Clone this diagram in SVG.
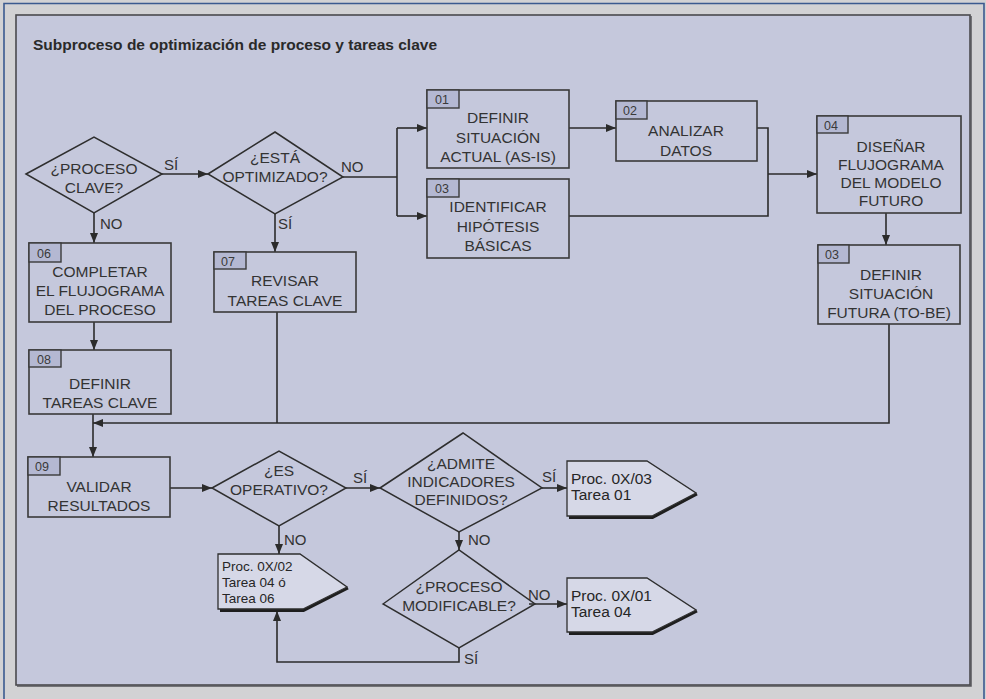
<svg xmlns="http://www.w3.org/2000/svg" width="986" height="699" viewBox="0 0 986 699">
  <defs>
    <marker id="arrow" viewBox="0 0 10 8" refX="10" refY="4" markerWidth="10" markerHeight="8" markerUnits="userSpaceOnUse" orient="auto">
      <path d="M0,0 L10,4 L0,8 Z" fill="#2b2b2b"/>
    </marker>
  </defs>
  <style>
    .box { fill: none; stroke: #3a3a3a; stroke-width: 1.6; }
    .tag { fill: #b4b8d2; stroke: #3a3a3a; stroke-width: 1.4; }
    .tagtxt { font-family: "Liberation Sans", Arial, sans-serif; font-size: 12.5px; fill: #3a3a3a; }
    .dia { fill: none; stroke: #2e2e2e; stroke-width: 1.5; }
    .pent { fill: #d6d8e7; stroke: #2e2e2e; stroke-width: 1.3; }
    .pshadow { fill: none; stroke: #1e1e1e; stroke-width: 3; stroke-linejoin: miter; }
    .t { font-family: "Liberation Sans", Arial, sans-serif; font-size: 15.5px; fill: #333; text-anchor: middle; }
    .pt { font-family: "Liberation Sans", Arial, sans-serif; font-size: 15.5px; fill: #262626; }
    .pt3 { font-family: "Liberation Sans", Arial, sans-serif; font-size: 13.5px; fill: #262626; }
    .lbl { font-family: "Liberation Sans", Arial, sans-serif; font-size: 15px; fill: #333; }
    .conn { fill: none; stroke: #2b2b2b; stroke-width: 1.6; }
    .title { font-family: "Liberation Sans", Arial, sans-serif; font-size: 15.5px; font-weight: bold; fill: #2a2a2a; }
  </style>

  <!-- frame -->
  <rect x="0" y="0" width="986" height="699" fill="#d2d2d4"/>
  <path d="M4,699 V3.5 H984 V699" fill="none" stroke="#3b5a8f" stroke-width="1.6"/>
  <rect x="16" y="15" width="954" height="670" fill="#c5c8dc" stroke="#4a4a4e" stroke-width="1.6"/>
  <path d="M17,686 H971 V16" fill="none" stroke="#55555a" stroke-width="1.5"/>

  <text class="title" x="33" y="50">Subproceso de optimización de proceso y tareas clave</text>

  <!-- connectors -->
  <g id="connectors">
    <path class="conn" d="M162,174 H208" marker-end="url(#arrow)"/>
    <path class="conn" d="M94,213 V243" marker-end="url(#arrow)"/>
    <path class="conn" d="M343,177 H397"/>
    <path class="conn" d="M397,128 V216"/>
    <path class="conn" d="M397,128 H427" marker-end="url(#arrow)"/>
    <path class="conn" d="M397,216 H427" marker-end="url(#arrow)"/>
    <path class="conn" d="M275,214 V252" marker-end="url(#arrow)"/>
    <path class="conn" d="M569,128 H616" marker-end="url(#arrow)"/>
    <path class="conn" d="M757,128 H768 V216 H569"/>
    <path class="conn" d="M768,174 H817" marker-end="url(#arrow)"/>
    <path class="conn" d="M886,213 V245" marker-end="url(#arrow)"/>
    <path class="conn" d="M889,324 V423 H93" marker-end="url(#arrow)"/>
    <path class="conn" d="M277,312 V423"/>
    <path class="conn" d="M94,322 V350" marker-end="url(#arrow)"/>
    <path class="conn" d="M93,414 V457" marker-end="url(#arrow)"/>
    <path class="conn" d="M170,488 H212" marker-end="url(#arrow)"/>
    <path class="conn" d="M346,488 H380" marker-end="url(#arrow)"/>
    <path class="conn" d="M279,526 V554" marker-end="url(#arrow)"/>
    <path class="conn" d="M542,488 H567" marker-end="url(#arrow)"/>
    <path class="conn" d="M459,532 V550" marker-end="url(#arrow)"/>
    <path class="conn" d="M529,604 H567" marker-end="url(#arrow)"/>
    <path class="conn" d="M459,648 V662 H277 V611" marker-end="url(#arrow)"/>

    <text class="lbl" x="164" y="170">SÍ</text>
    <text class="lbl" x="100" y="229">NO</text>
    <text class="lbl" x="341" y="172">NO</text>
    <text class="lbl" x="278" y="229">SÍ</text>
    <text class="lbl" x="353" y="483">SÍ</text>
    <text class="lbl" x="284" y="545">NO</text>
    <text class="lbl" x="542" y="482">SÍ</text>
    <text class="lbl" x="468" y="545">NO</text>
    <text class="lbl" x="528" y="600">NO</text>
    <text class="lbl" x="464" y="664">SÍ</text>
  </g>

  <!-- decisions -->
  <g id="d-proceso-clave">
    <polygon class="dia" points="26,174 94,137 162,174 94,213"/>
    <text class="t" x="94" y="174">¿PROCESO</text>
    <text class="t" x="94" y="193">CLAVE?</text>
  </g>
  <g id="d-optimizado">
    <polygon class="dia" points="208,174 275,132 343,177 275,214"/>
    <text class="t" x="275" y="163">¿ESTÁ</text>
    <text class="t" x="275" y="182">OPTIMIZADO?</text>
  </g>
  <g id="d-operativo">
    <polygon class="dia" points="212,488 279,451 346,488 279,526"/>
    <text class="t" x="279" y="476">¿ES</text>
    <text class="t" x="279" y="495">OPERATIVO?</text>
  </g>
  <g id="d-admite">
    <polygon class="dia" points="380,488 463,433 542,488 459,532"/>
    <text class="t" x="461" y="469">¿ADMITE</text>
    <text class="t" x="461" y="487">INDICADORES</text>
    <text class="t" x="461" y="505">DEFINIDOS?</text>
  </g>
  <g id="d-modificable">
    <polygon class="dia" points="383,604 459,550 535,604 459,648"/>
    <text class="t" x="459" y="592">¿PROCESO</text>
    <text class="t" x="459" y="611">MODIFICABLE?</text>
  </g>

  <!-- tasks -->
  <g id="t06">
    <rect class="box" x="29" y="243" width="142" height="79"/>
    <rect class="tag" x="29" y="243" width="32" height="19"/>
    <text class="tagtxt" x="37" y="258">06</text>
    <text class="t" x="100" y="277">COMPLETAR</text>
    <text class="t" x="100" y="296">EL FLUJOGRAMA</text>
    <text class="t" x="100" y="315">DEL PROCESO</text>
  </g>
  <g id="t07">
    <rect class="box" x="214" y="252" width="142" height="60"/>
    <rect class="tag" x="214" y="252" width="32" height="17"/>
    <text class="tagtxt" x="221" y="266">07</text>
    <text class="t" x="285" y="286">REVISAR</text>
    <text class="t" x="285" y="306">TAREAS CLAVE</text>
  </g>
  <g id="t08">
    <rect class="box" x="29" y="350" width="142" height="64"/>
    <rect class="tag" x="29" y="350" width="32" height="17"/>
    <text class="tagtxt" x="37" y="364">08</text>
    <text class="t" x="100" y="389">DEFINIR</text>
    <text class="t" x="100" y="408">TAREAS CLAVE</text>
  </g>
  <g id="t09">
    <rect class="box" x="28" y="457" width="142" height="60"/>
    <rect class="tag" x="28" y="457" width="32" height="18"/>
    <text class="tagtxt" x="35" y="471">09</text>
    <text class="t" x="99" y="492">VALIDAR</text>
    <text class="t" x="99" y="511">RESULTADOS</text>
  </g>
  <g id="t01">
    <rect class="box" x="427" y="90" width="142" height="78"/>
    <rect class="tag" x="427" y="90" width="32" height="18"/>
    <text class="tagtxt" x="435" y="104">01</text>
    <text class="t" x="498" y="123">DEFINIR</text>
    <text class="t" x="498" y="143">SITUACIÓN</text>
    <text class="t" x="498" y="162">ACTUAL (AS-IS)</text>
  </g>
  <g id="t03-hipotesis">
    <rect class="box" x="427" y="179" width="142" height="79"/>
    <rect class="tag" x="427" y="179" width="32" height="18"/>
    <text class="tagtxt" x="435" y="193">03</text>
    <text class="t" x="498" y="212">IDENTIFICAR</text>
    <text class="t" x="498" y="232">HIPÓTESIS</text>
    <text class="t" x="498" y="251">BÁSICAS</text>
  </g>
  <g id="t02">
    <rect class="box" x="616" y="101" width="141" height="60"/>
    <rect class="tag" x="616" y="101" width="31" height="18"/>
    <text class="tagtxt" x="623" y="115">02</text>
    <text class="t" x="686" y="136">ANALIZAR</text>
    <text class="t" x="686" y="156">DATOS</text>
  </g>
  <g id="t04">
    <rect class="box" x="817" y="116" width="144" height="97"/>
    <rect class="tag" x="817" y="116" width="31" height="17"/>
    <text class="tagtxt" x="824" y="130">04</text>
    <text class="t" x="891" y="152">DISEÑAR</text>
    <text class="t" x="891" y="170">FLUJOGRAMA</text>
    <text class="t" x="891" y="188">DEL MODELO</text>
    <text class="t" x="891" y="206">FUTURO</text>
  </g>
  <g id="t03-futura">
    <rect class="box" x="818" y="245" width="142" height="79"/>
    <rect class="tag" x="818" y="245" width="31" height="18"/>
    <text class="tagtxt" x="825" y="259">03</text>
    <text class="t" x="891" y="280">DEFINIR</text>
    <text class="t" x="891" y="299">SITUACIÓN</text>
    <text class="t" x="889" y="318">FUTURA (TO-BE)</text>
  </g>

  <!-- off-page references -->
  <g id="ref-0x03">
    <polyline class="pshadow" points="569,517.5 652.5,517.5 697,494"/>
    <polygon class="pent" points="567,461 647,461 696,493 652,516 567,516"/>
    <text class="pt" x="571" y="484">Proc. 0X/03</text>
    <text class="pt" x="571" y="500">Tarea 01</text>
  </g>
  <g id="ref-0x02">
    <polyline class="pshadow" points="220,610.5 303.5,610.5 348,588"/>
    <polygon class="pent" points="218,554 300,554 347,587 303,609 218,609"/>
    <text class="pt3" x="222" y="571">Proc. 0X/02</text>
    <text class="pt3" x="222" y="587">Tarea 04 ó</text>
    <text class="pt3" x="222" y="603">Tarea 06</text>
  </g>
  <g id="ref-0x01">
    <polyline class="pshadow" points="569,633.5 652.5,633.5 697,611"/>
    <polygon class="pent" points="567,578 647,578 696,610 652,632 567,632"/>
    <text class="pt" x="571" y="601">Proc. 0X/01</text>
    <text class="pt" x="571" y="617">Tarea 04</text>
  </g>
</svg>
